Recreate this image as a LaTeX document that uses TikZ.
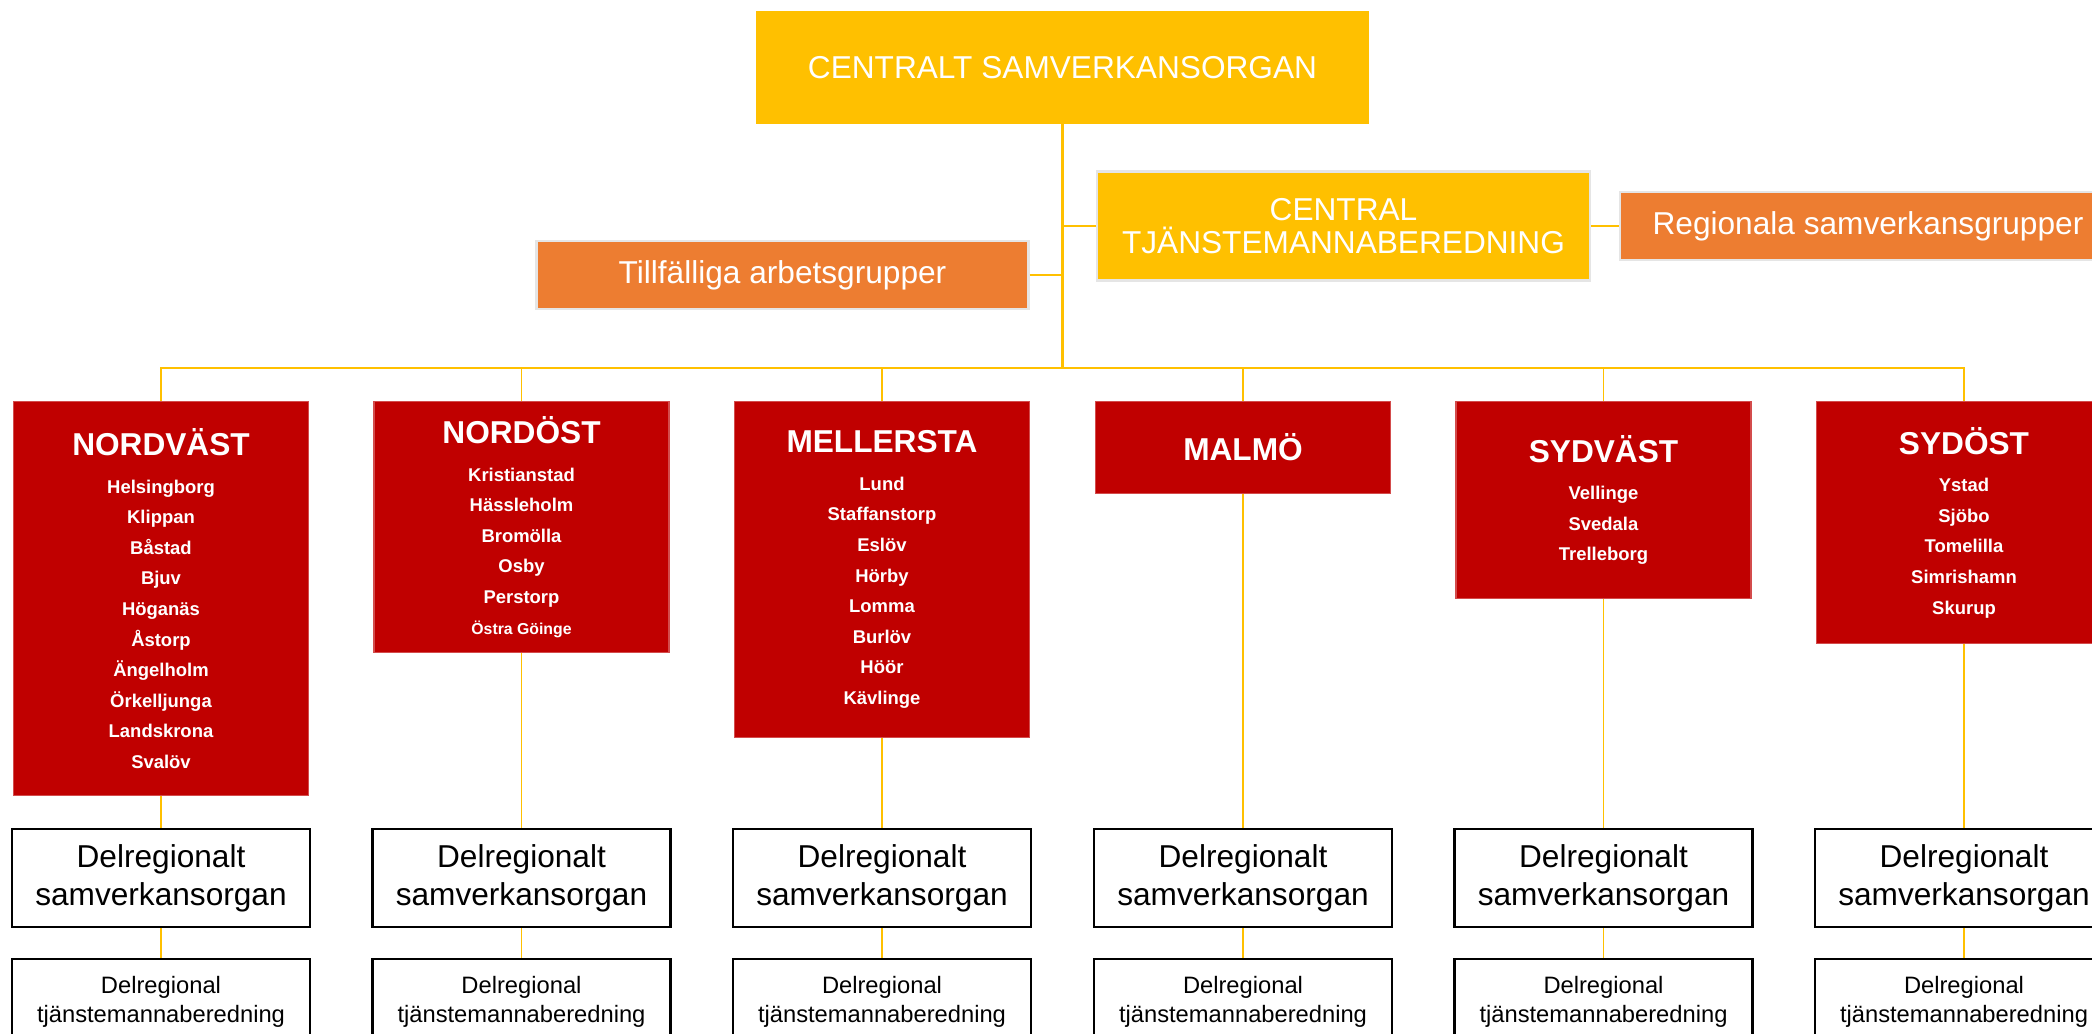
\documentclass[tikz,border=0pt]{standalone}
\usepackage{fontspec}
\setmainfont{Liberation Sans}
\definecolor{samguld}{RGB}{255,192,0}
\definecolor{samorange}{RGB}{237,125,49}
\definecolor{samrod}{RGB}{192,0,0}
\tikzset{
	gul/.style={fill=samguld, text=white, align=center, inner sep=0pt, font=\fontsize{18}{19}\selectfont},
	orangebox/.style={fill=samorange, draw=black!10, line width=1.2pt, text=white, inner sep=0pt, font=\fontsize{18}{19}\selectfont},
	region/.style={fill=samrod, draw=samrod!70!white, line width=0.6pt, text=white, align=center, anchor=north, inner sep=0pt, minimum width=5.9cm, font=\fontsize{10.5}{17.4}\selectfont\bfseries},
	delorgan/.style={draw=black, line width=1.4pt, fill=white, align=center, inner sep=0pt, minimum width=5.96cm, minimum height=1.96cm, font=\fontsize{18}{21.5}\selectfont},
	deltjm/.style={draw=black, line width=1.4pt, fill=white, align=center, anchor=north, inner sep=0pt, minimum width=5.96cm, minimum height=1.72cm, font=\fontsize{13.5}{16.4}\selectfont},
	tjock/.style={draw=samguld, line width=1.6pt},
	tunn/.style={draw=samguld, line width=1.1pt}
}
\def\rubrik#1{{\fontsize{18}{22}\selectfont #1}\\[4pt]}

\begin{document}
\begin{tikzpicture}
		%%%%% START %%%%%
		\useasboundingbox (0,0) rectangle (41.84,-20.66);
		\clip (0,0) rectangle (41.84,-20.66);
		
		\node[gul, minimum width=12.26cm, minimum height=2.26cm] (centralt) at (21.25,-1.35) {CENTRALT SAMVERKANSORGAN};
		\node[gul, draw=black!10, line width=1.2pt, minimum width=9.86cm, minimum height=2.18cm] (beredning) at (26.87,-4.52) {CENTRAL\\TJÄNSTEMANNABEREDNING};
		\node[orangebox, minimum width=9.92cm, minimum height=1.36cm] (regionala) at (37.36,-4.52) {Regionala samverkansgrupper};
		\node[orangebox, minimum width=9.84cm, minimum height=1.36cm] (tillfalliga) at (15.65,-5.50) {Tillfälliga arbetsgrupper};
		\coordinate (nav) at (21.25,-7.36);
		
		\node[region, minimum height=7.88cm] (nordvast) at (3.22,-8.02) {\rubrik{NORDVÄST}Helsingborg\\Klippan\\Båstad\\Bjuv\\Höganäs\\Åstorp\\Ängelholm\\Örkelljunga\\Landskrona\\Svalöv};
		\node[region, minimum height=5.02cm] (nordost) at (10.43,-8.02) {\rubrik{NORDÖST}Kristianstad\\Hässleholm\\Bromölla\\Osby\\Perstorp\\{\fontsize{9}{17.4}\selectfont Östra Göinge}};
		\node[region, minimum height=6.72cm] (mellersta) at (17.64,-8.02) {\rubrik{MELLERSTA}Lund\\Staffanstorp\\Eslöv\\Hörby\\Lomma\\Burlöv\\Höör\\Kävlinge};
		\node[region, minimum height=1.84cm] (malmo) at (24.86,-8.02) {{\fontsize{18}{22}\selectfont MALMÖ}};
		\node[region, minimum height=3.94cm] (sydvast) at (32.07,-8.02) {\rubrik{SYDVÄST}Vellinge\\Svedala\\Trelleborg};
		\node[region, minimum height=4.84cm] (sydost) at (39.28,-8.02) {\rubrik{SYDÖST}Ystad\\Sjöbo\\Tomelilla\\Simrishamn\\Skurup};
		
		\node[delorgan] (nvorgan) at (3.22,-17.56) {Delregionalt\\samverkansorgan};
		\node[delorgan] (noorgan) at (10.43,-17.56) {Delregionalt\\samverkansorgan};
		\node[delorgan] (meorgan) at (17.64,-17.56) {Delregionalt\\samverkansorgan};
		\node[delorgan] (maorgan) at (24.86,-17.56) {Delregionalt\\samverkansorgan};
		\node[delorgan] (svorgan) at (32.07,-17.56) {Delregionalt\\samverkansorgan};
		\node[delorgan] (soorgan) at (39.28,-17.56) {Delregionalt\\samverkansorgan};
		
		\node[deltjm] (nvtjm) at (3.22,-19.16) {Delregional\\tjänstemannaberedning};
		\node[deltjm] (notjm) at (10.43,-19.16) {Delregional\\tjänstemannaberedning};
		\node[deltjm] (metjm) at (17.64,-19.16) {Delregional\\tjänstemannaberedning};
		\node[deltjm] (matjm) at (24.86,-19.16) {Delregional\\tjänstemannaberedning};
		\node[deltjm] (svtjm) at (32.07,-19.16) {Delregional\\tjänstemannaberedning};
		\node[deltjm] (sotjm) at (39.28,-19.16) {Delregional\\tjänstemannaberedning};
		
		% top part
		\draw[tjock] (centralt.south) -- (nav);
		\draw[tjock] (beredning.west) -- (beredning.west -| nav);
		\draw[tjock] (beredning.east) -- (regionala.west);
		\draw[tjock] (tillfalliga.east) -- (tillfalliga.east -| nav);
		\draw[tjock] (nordvast.north) |- (nav) -| (sydost.north);
		\draw[tunn] (nordost.north) -- (nordost.north |- nav);
		\draw[tunn] (mellersta.north) -- (mellersta.north |- nav);
		\draw[tunn] (malmo.north) -- (malmo.north |- nav);
		\draw[tunn] (sydvast.north) -- (sydvast.north |- nav);
		
		% down to the delregional boxes
		\draw[tunn] (nordvast.south) -- (nvorgan.north);
		\draw[tunn] (nordost.south) -- (noorgan.north);
		\draw[tunn] (mellersta.south) -- (meorgan.north);
		\draw[tunn] (malmo.south) -- (maorgan.north);
		\draw[tunn] (sydvast.south) -- (svorgan.north);
		\draw[tunn] (sydost.south) -- (soorgan.north);
		\draw[tunn] (nvorgan.south) -- (nvtjm.north);
		\draw[tunn] (noorgan.south) -- (notjm.north);
		\draw[tunn] (meorgan.south) -- (metjm.north);
		\draw[tunn] (maorgan.south) -- (matjm.north);
		\draw[tunn] (svorgan.south) -- (svtjm.north);
		\draw[tunn] (soorgan.south) -- (sotjm.north);
		
		%%%%% END %%%%%
	\end{tikzpicture}
\end{document}
